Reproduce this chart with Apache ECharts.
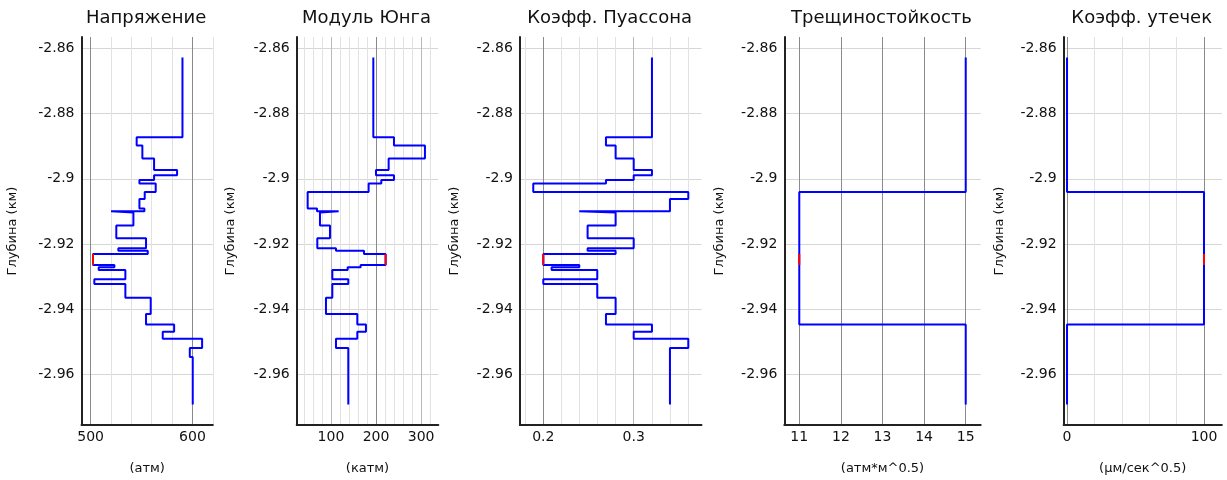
<!DOCTYPE html>
<html><head><meta charset="utf-8">
<script src="https://cdn.jsdelivr.net/npm/echarts@6/dist/echarts.min.js"></script>
<style>html,body{margin:0;padding:0;background:#fff}#c{width:1227px;height:480px}</style>
</head><body><div id="c"></div>
<script>
// ---------- data ----------
const titles = ['Напряжение', 'Модуль Юнга', 'Коэфф. Пуассона', 'Трещиностойкость', 'Коэфф. утечек'];
const units = ['(атм)', '(катм)', '', '(атм*м^0.5)', '(µм/сек^0.5)'];
const depthName = 'Глубина (км)';
const depthTicks = [-2.86, -2.88, -2.9, -2.92, -2.94, -2.96];

// layer tops (km), last layer ends at bottomDepth
const layerTops = [-2.86276, -2.88722, -2.88978, -2.89378, -2.89726, -2.89889, -2.90033, -2.90145,
  -2.90401, -2.90616, -2.90913, -2.90995, -2.91036, -2.91435, -2.91824, -2.92131, -2.92203, -2.92305,
  -2.92643, -2.92714, -2.92796, -2.93083, -2.93226, -2.93646, -2.94147, -2.94465, -2.94690, -2.94905,
  -2.95191, -2.95468];
const bottomDepth = -2.96921;
const highlightLayer = 17;

const stress = [590.2, 545.2, 550.8, 562.3, 584.9, 562.3, 547.9, 563.9, 553.1, 547.9, 552.8, 520, 542, 525.2,
  554.4, 527.2, 556.1, 502.3, 523.3, 507.9, 534.1, 503.6, 534.1, 559, 554.4, 582, 570.8, 609.5, 597.4, 600.3];
const young = [193.9, 239.7, 308.4, 227.9, 199.8, 239.7, 211.6, 183.5, 48.3, 48.3, 69, 117, 75.6, 97.8,
  69.7, 111.1, 173.2, 221.2, 165.8, 137, 103, 138.4, 103, 88.9, 158.4, 177.6, 158.4, 111.1, 138.4, 138.4];
const poisson = [0.3202, 0.2693, 0.28, 0.3, 0.3202, 0.3, 0.2693, 0.1889, 0.3604, 0.3401, 0.3401, 0.2398, 0.28, 0.249,
  0.3, 0.249, 0.28, 0.2, 0.2398, 0.2092, 0.2597, 0.2, 0.2597, 0.28, 0.2693, 0.3202, 0.3, 0.3604, 0.3401, 0.3401];
const toughness = [15, 15, 15, 15, 15, 15, 15, 15, 11, 11, 11, 11, 11, 11, 11, 11, 11, 11, 11, 11, 11, 11, 11, 11, 11,
  15, 15, 15, 15, 15];
const leakoff = [0, 0, 0, 0, 0, 0, 0, 0, 100, 100, 100, 100, 100, 100, 100, 100, 100, 100, 100, 100, 100, 100, 100, 100, 100,
  0, 0, 0, 0, 0];

const xTicks1 = [500, 600];
const xTicks2 = [100, 200, 300];
const xTicks3 = [0.2, 0.3];
const xTicks4 = [11, 12, 13, 14, 15];
const xTicks5 = [0, 100];

// ---------- layout / style ----------
const FONT = 'DejaVu Sans';
const DARK = '#8a8a8a', MID = '#b9b9b9', LIGHT = '#e2e2e2', HGRID = '#d6d6d6';
const panels = [
  {values: stress, ticks: xTicks1, min: 491, max: 620, step: 1, minor: 20, dark: [500, 600], mid: [], left: 81.5, width: 131.3, nameGap: 62},
  {values: young, ticks: xTicks2, min: 24, max: 338, step: 2, minor: 20, dark: [200], mid: [100, 300], left: 296.7, width: 141.6, nameGap: 60},
  {values: poisson, ticks: xTicks3, min: 0.174, max: 0.375, step: 0.001, minor: 0.02, dark: [0.2], mid: [0.3], left: 519.8, width: 181.7, nameGap: 58.5},
  {values: toughness, ticks: xTicks4, min: 10.64, max: 15.36, step: 0.04, minor: 0, dark: [11, 12, 13, 14, 15], mid: [], left: 784.3, width: 196.4, nameGap: 58},
  {values: leakoff, ticks: xTicks5, min: -2.5, max: 113, step: 0.5, minor: 20, dark: [0, 100], mid: [], left: 1063.6, width: 158.2, nameGap: 57}
];
const GRID_TOP = 37, GRID_H = 388;
const Y_MIN = -2.9755, Y_MAX = -2.8565, Y_STEP = 0.0005;

function near(a, b, tol) { return Math.abs(a - b) < tol; }

function profilePoints(vals) {
  const pts = [];
  for (let i = 0; i < layerTops.length; i++) {
    const bot = i + 1 < layerTops.length ? layerTops[i + 1] : bottomDepth;
    pts.push([vals[i], layerTops[i]]);
    pts.push([vals[i], bot]);
  }
  return pts;
}
function highlightPoints(vals) {
  const i = highlightLayer;
  return [[vals[i], layerTops[i]], [vals[i], layerTops[i + 1]]];
}

// y split-line colours (one per tick, counted from min)
const yCount = Math.round((Y_MAX - Y_MIN) / Y_STEP);
const yColors = [];
for (let i = 0; i <= yCount; i++) {
  const v = Y_MIN + i * Y_STEP;
  yColors.push(depthTicks.some(t => near(v, t, Y_STEP * 0.1)) ? HGRID : 'transparent');
}
function yFormatter(v) {
  const t = depthTicks.find(t => near(v, t, Y_STEP * 0.1));
  return t === undefined ? '' : String(t);
}

const grids = [], xAxes = [], yAxes = [], series = [], titleArr = [];
panels.forEach((p, idx) => {
  grids.push({left: p.left, top: GRID_TOP, width: p.width, height: GRID_H, containLabel: false});
  const n = Math.round((p.max - p.min) / p.step);
  const xColors = [];
  for (let i = 0; i <= n; i++) {
    const v = p.min + i * p.step;
    let c = 'transparent';
    if (p.dark.some(d => near(v, d, p.step * 0.1))) c = DARK;
    else if (p.mid.some(d => near(v, d, p.step * 0.1))) c = MID;
    else if (p.minor && Math.abs(v / p.minor - Math.round(v / p.minor)) < 0.01) c = LIGHT;
    xColors.push(c);
  }
  xAxes.push({
    type: 'value', gridIndex: idx, position: 'bottom', min: p.min, max: p.max, interval: p.step,
    axisLine: {show: true, onZero: false, lineStyle: {color: '#222', width: 2}},
    axisTick: {show: false},
    axisLabel: {
      fontFamily: FONT, fontSize: 14, color: '#111', margin: 5,
      formatter: v => { const t = p.ticks.find(t => near(v, t, p.step * 0.1)); return t === undefined ? '' : String(t); }
    },
    splitLine: {show: true, lineStyle: {color: xColors, width: 1}},
    name: units[idx], nameLocation: 'middle', nameGap: 37,
    nameTextStyle: {fontFamily: FONT, fontSize: 13, color: '#111'}
  });
  yAxes.push({
    type: 'value', gridIndex: idx, position: 'left', min: Y_MIN, max: Y_MAX, interval: Y_STEP,
    axisLine: {show: true, onZero: false, lineStyle: {color: '#222', width: 2}},
    axisTick: {show: false},
    axisLabel: {fontFamily: FONT, fontSize: 14, color: '#111', margin: 7, formatter: yFormatter},
    splitLine: {show: true, lineStyle: {color: yColors, width: 1}},
    name: depthName, nameLocation: 'middle', nameRotate: 90, nameGap: p.nameGap,
    nameTextStyle: {fontFamily: FONT, fontSize: 13, color: '#111'}
  });
  series.push({
    type: 'line', xAxisIndex: idx, yAxisIndex: idx, data: profilePoints(p.values),
    symbol: 'none', lineStyle: {color: '#0000ff', width: 2}, itemStyle: {color: '#0000ff'},
    silent: true, animation: false, z: 3
  });
  series.push({
    type: 'line', xAxisIndex: idx, yAxisIndex: idx, data: highlightPoints(p.values),
    symbol: 'none', lineStyle: {color: '#ff0000', width: 2}, itemStyle: {color: '#ff0000'},
    silent: true, animation: false, z: 4
  });
  titleArr.push({
    text: titles[idx], left: p.left + p.width / 2 - 1, top: 9, textAlign: 'center', padding: 0,
    textStyle: {fontFamily: FONT, fontSize: 18, fontWeight: 'normal', color: '#111'}
  });
});

const chart = echarts.init(document.getElementById('c'), null, {renderer: 'canvas'});
chart.setOption({
  backgroundColor: '#ffffff',
  animation: false,
  title: titleArr,
  grid: grids,
  xAxis: xAxes,
  yAxis: yAxes,
  series: series
});
</script>
</body></html>
